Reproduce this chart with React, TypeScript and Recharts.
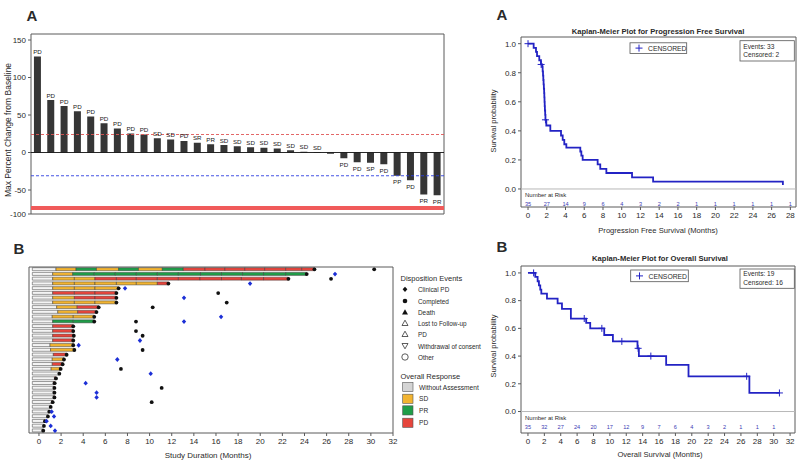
import React from "react";
import {
  BarChart,
  Bar,
  XAxis,
  YAxis,
  ReferenceLine,
  ReferenceArea,
  LabelList,
  Cell,
  ComposedChart,
  Line,
  Scatter,
  ScatterChart,
} from "recharts";

const FONT = "'Liberation Sans', Arial, Helvetica, sans-serif";
const TXT = "#2a2a2a";
const AX = "#5a5a5a";
const KMBLUE = "#2323c4";

// ---------- Panel A (left): waterfall ----------
const wfChange = [128, 70, 62, 55, 48, 39, 32, 25.5, 24, 19, 17.5, 15.5, 13, 11, 10, 8.5, 7, 6.2, 5.4, 3, 1, 0.6, -1.5, -7.5, -13, -13.5, -15.5, -31, -37, -56, -57];
const wfResponse = ["PD", "PD", "PD", "PD", "PD", "PD", "PD", "PD", "PD", "SD", "SD", "PD", "SR", "PR", "SD", "SD", "SD", "SD", "SD", "SD", "SD", "SD", "", "PD", "PD", "SP", "PD", "PP", "PD", "PR", "PR"];
const wfTicks = [150, 100, 50, 0, -50, -82];
const wfDomain: [number, number] = [-82, 158];
const wfProgressLine = 24;
const wfResponseLine = -31;
const wfFloor = -74;

// ---------- Panel B (left): swimmer ----------
type Seg = [string, number];
const swimStart = -0.6;
const swimRows: Seg[][] = [
  [["N", 1.54], ["SD", 3.35], ["PR", 5.2], ["SD", 7.2], ["PR", 9.0], ["SD", 11.15], ["PR", 13.05], ["PD", 15.0], ["PD", 16.8], ["PD", 18.6], ["PD", 20.4], ["PD", 22.3], ["PD", 23.75], ["PD", 24.9]],
  [["N", 1.24], ["SD", 3.05], ["PR", 5.0], ["PR", 6.9], ["PR", 8.8], ["PR", 10.7], ["PR", 12.6], ["PR", 14.6], ["PR", 16.5], ["PR", 18.4], ["PR", 20.3], ["PR", 22.3], ["PR", 24.2]],
  [["N", 1.24], ["SD", 3.2], ["SD", 5.06], ["PD", 7.0], ["PD", 8.8], ["PD", 10.7], ["PD", 12.6], ["PD", 14.55], ["PD", 16.5], ["PD", 18.3], ["PD", 20.3], ["PD", 22.55]],
  [["N", 1.24], ["SD", 3.2], ["SD", 5.06], ["SD", 7.0], ["SD", 8.8], ["SD", 10.7], ["PD", 11.7]],
  [["N", 1.24], ["SD", 3.2], ["SD", 5.06], ["SD", 7.2]],
  [["N", 1.24], ["PD", 3.2], ["PD", 5.06], ["PD", 7.0]],
  [["N", 1.24], ["SD", 3.2], ["PD", 5.06], ["PD", 7.0]],
  [["N", 1.24], ["SD", 3.2], ["SD", 5.06], ["SD", 7.0]],
  [["N", 1.6], ["SD", 3.45], ["PD", 5.4]],
  [["N", 1.7], ["SD", 3.5], ["PD", 5.2]],
  [["N", 1.2], ["SD", 3.1], ["SD", 5.0]],
  [["N", 1.24], ["PR", 3.1], ["PR", 5.0]],
  [["N", 1.24], ["PD", 3.1]],
  [["N", 1.24], ["PD", 3.1]],
  [["N", 1.24], ["PD", 3.15]],
  [["N", 1.24], ["PD", 3.1]],
  [["N", 1.0], ["SD", 3.1]],
  [["N", 1.05], ["SD", 3.2]],
  [["N", 1.3], ["PD", 2.5]],
  [["N", 1.2], ["SD", 2.26]],
  [["N", 1.2], ["PD", 2.14]],
  [["N", 1.1], ["SD", 1.96]],
  [["N", 1.84]],
  [["N", 1.4], ["PD", 1.54]],
  [["N", 1.3], ["PD", 1.42]],
  [["N", 1.3], ["PD", 1.4]],
  [["N", 1.3], ["PD", 1.4]],
  [["N", 1.3], ["PD", 1.4]],
  [["N", 1.15], ["PD", 1.24]],
  [["N", 1.06]],
  [["N", 0.93]],
  [["N", 0.81]],
  [["N", 0.54]],
  [["N", 0.45]],
  [["N", 0.3], ["PD", 0.39]],
];
const swimBlack: [number, number][] = [[1, 30.3], [3, 26.4], [6, 16.2], [8, 16.97], [9, 10.28], [12, 8.77], [14, 8.77], [15, 9.37], [18, 9.37], [22, 7.41], [26, 11.09], [29, 10.19]];
const swimBlue: [number, number][] = [[2, 26.76], [4, 19.08], [5, 7.78], [7, 13.11], [11, 16.46], [12, 13.11], [16, 9.13], [17, 3.59], [20, 7.08], [23, 10.1], [25, 4.22], [27, 5.21], [28, 5.21], [31, 1.15], [32, 1.36], [33, 0.69], [34, 1.06], [35, 1.45]];
const swimTicks = [0, 2, 4, 6, 8, 10, 12, 14, 16, 18, 20, 22, 24, 26, 28, 30, 32];
const swimDomain: [number, number] = [-0.9, 32];
const statusColor: Record<string, string> = { N: "#f4f4f4", SD: "#f2b431", PR: "#1f9d48", PD: "#e6453c" };

// ---------- Right A: PFS ----------
const pfsTime = [0, 0.6, 0.85, 0.96, 1.2, 1.38, 1.5, 1.56, 1.6, 1.63, 1.66, 1.69, 1.72, 1.74, 1.76, 1.78, 1.8, 1.83, 1.86, 1.95, 2.38, 3.52, 3.7, 3.87, 4.09, 5.58, 5.69, 5.83, 7.43, 7.71, 8.36, 11.1, 13.35, 27.2];
const pfsSurv = [1.0, 0.971, 0.943, 0.914, 0.886, 0.857, 0.843, 0.81, 0.78, 0.75, 0.72, 0.69, 0.66, 0.63, 0.6, 0.57, 0.54, 0.51, 0.476, 0.437, 0.4, 0.368, 0.338, 0.308, 0.285, 0.258, 0.23, 0.2, 0.17, 0.138, 0.11, 0.08, 0.05, 0.028];
const pfsCensorT = [0, 1.4, 1.86];
const pfsCensorS = [1.0, 0.857, 0.476];
const pfsAtRisk = [35, 27, 14, 9, 6, 4, 3, 2, 2, 1, 1, 1, 1, 1, 1];
const pfsTicks = [0, 2, 4, 6, 8, 10, 12, 14, 16, 18, 20, 22, 24, 26, 28];

// ---------- Right B: OS ----------
const osTime = [0, 0.89, 1.18, 1.34, 1.5, 1.63, 2.32, 3.62, 4.15, 5.24, 7.11, 7.6, 9.31, 10.37, 13.37, 13.54, 16.87, 19.6, 27.03, 30.7];
const osSurv = [1.0, 0.971, 0.94, 0.91, 0.88, 0.851, 0.815, 0.78, 0.741, 0.671, 0.64, 0.6, 0.552, 0.506, 0.456, 0.4, 0.336, 0.254, 0.134, 0.134];
const osCensorT = [0.69, 6.87, 9.02, 11.46, 13.45, 15.0, 26.7, 30.7];
const osCensorS = [1.0, 0.671, 0.6, 0.506, 0.456, 0.4, 0.254, 0.134];
const osAtRisk = [35, 32, 27, 24, 20, 17, 12, 9, 7, 6, 4, 3, 2, 1, 1, 1];
const osTicks = [0, 2, 4, 6, 8, 10, 12, 14, 16, 18, 20, 22, 24, 26, 28, 30, 32];
const kmYTicks = [0, 0.2, 0.4, 0.6, 0.8, 1.0];

// ---------- derived tables ----------
const wfData = wfChange.map((v, i) => ({ pid: `P${i + 1}`, change: v, resp: wfResponse[i] }));
const maxSeg = Math.max(...swimRows.map((r) => r.length));
const segKeys = Array.from({ length: maxSeg }, (_, k) => `s${k}`);
const swimData = swimRows.map((segs, i) => {
  const o: Record<string, any> = { row: `R${i + 1}`, off: swimStart };
  let prev = swimStart;
  segKeys.forEach((key, k) => {
    if (k < segs.length) {
      o[key] = +(segs[k][1] - prev).toFixed(3);
      prev = segs[k][1];
    } else o[key] = 0;
  });
  return o;
});
const swimEndPts = swimRows.map((segs, i) => ({ row: i + 1, x: segs[segs.length - 1][1] }));
const swimBlackPts = swimBlack.map(([row, x]) => ({ row, x }));
const swimBluePts = swimBlue.map(([row, x]) => ({ row, x }));
const pfsCurve = pfsTime.map((t, i) => ({ t, s: pfsSurv[i] }));
const pfsCensor = pfsCensorT.map((t, i) => ({ t, s: pfsCensorS[i] }));
const pfsRisk = pfsAtRisk.map((n, i) => ({ t: pfsTicks[i], s: -0.1, n }));
const osCurve = osTime.map((t, i) => ({ t, s: osSurv[i] }));
const osCensor = osCensorT.map((t, i) => ({ t, s: osCensorS[i] }));
const osRisk = osAtRisk.map((n, i) => ({ t: osTicks[i], s: -0.112, n }));

const tickStyle = { fontSize: 8, fill: TXT, fontFamily: FONT };

const WfLabel = (props: any) => {
  const vb = props.viewBox || {};
  const x = props.x ?? vb.x;
  const y = props.y ?? vb.y;
  const w = props.width ?? vb.width;
  const h = props.height ?? vb.height;
  const idx = props.index;
  if (idx == null || x == null) return null;
  const txt = wfResponse[idx];
  if (!txt) return null;
  const top = Math.min(y, y + h);
  const bot = Math.max(y, y + h);
  const cy = wfChange[idx] >= 0 ? top - 5 : bot + 6;
  return (
    <text x={x + w / 2} y={cy} fontSize={6.2} fill="#1a1a1a" textAnchor="middle" dominantBaseline="central" fontFamily={FONT}>
      {txt}
    </text>
  );
};

const BlackDot = (p: any) => <circle cx={p.cx} cy={p.cy} r={1.9} fill="#111" />;
const BlueDiamond = (p: any) => (
  <path d={`M${p.cx},${p.cy - 2.4}L${p.cx + 2.2},${p.cy}L${p.cx},${p.cy + 2.4}L${p.cx - 2.2},${p.cy}Z`} fill="#1c2fd6" />
);
const CensorMark = (p: any) => (
  <g stroke={KMBLUE} strokeWidth={1}>
    <line x1={p.cx - 3.5} x2={p.cx + 3.5} y1={p.cy} y2={p.cy} />
    <line x1={p.cx} x2={p.cx} y1={p.cy - 3.5} y2={p.cy + 3.5} />
  </g>
);
const RiskText = (p: any) => (
  <text x={p.cx} y={p.cy} fontSize={5.6} fill="#3c3cb4" textAnchor="middle" dominantBaseline="central" fontFamily={FONT}>
    {p.payload.n}
  </text>
);

type KMProps = {
  width: number;
  height: number;
  margin: { top: number; right: number; bottom: number; left: number };
  curve: { t: number; s: number }[];
  censor: { t: number; s: number }[];
  risk: { t: number; s: number; n: number }[];
  xDomain: [number, number];
  xTicks: number[];
  yDomain: [number, number];
};

function KMPlot({ width, height, margin, curve, censor, risk, xDomain, xTicks, yDomain }: KMProps) {
  return (
    <ComposedChart width={width} height={height} margin={margin}>
      <XAxis type="number" dataKey="t" domain={xDomain} ticks={xTicks} allowDataOverflow interval={0} height={20} tickSize={3} tick={tickStyle} axisLine={false} tickLine={{ stroke: AX }} />
      <YAxis type="number" domain={yDomain} ticks={kmYTicks} allowDataOverflow interval={0} width={41} tickSize={3} tick={tickStyle} axisLine={false} tickLine={{ stroke: AX }} tickFormatter={(v: number) => v.toFixed(1)} />
      <ReferenceArea x1={xDomain[0]} x2={xDomain[1]} y1={yDomain[0]} y2={yDomain[1]} fill="none" stroke={AX} strokeWidth={1} ifOverflow="visible" />
      <ReferenceLine y={0} stroke="#b8b8b8" strokeWidth={1} />
      <Line data={curve} dataKey="s" type="stepAfter" stroke={KMBLUE} strokeWidth={1.8} dot={false} isAnimationActive={false} />
      <Scatter data={censor} dataKey="s" shape={CensorMark} isAnimationActive={false} />
      <Scatter data={risk} dataKey="s" shape={RiskText} isAnimationActive={false} />
    </ComposedChart>
  );
}

const Txt = ({ x, y, s = 8, b = false, a = "start", rot = 0, fill = TXT, children }: any) => (
  <text
    x={x}
    y={y}
    fontSize={s}
    fontWeight={b ? 700 : 400}
    textAnchor={a}
    dominantBaseline="central"
    fill={fill}
    fontFamily={FONT}
    transform={rot ? `rotate(${rot} ${x} ${y})` : undefined}
  >
    {children}
  </text>
);

const abs = (left: number, top: number): React.CSSProperties => ({ position: "absolute", left, top });

function Overlay() {
  const legX = 405;
  const evY = [289.3, 301, 312, 323, 334, 346, 357];
  const evNames = ["Clinical PD", "Completed", "Death", "Lost to Follow-up", "PD", "Withdrawal of consent", "Other"];
  const respNames = ["Without Assessment", "SD", "PR", "PD"];
  const respColors = ["#d4d4d4", statusColor.SD, statusColor.PR, statusColor.PD];
  const respY = [387, 398.8, 410.4, 422.8];
  const tri = (cx: number, cy: number, down = false) =>
    down ? `M${cx - 3},${cy - 2.5}L${cx + 3},${cy - 2.5}L${cx},${cy + 2.8}Z` : `M${cx - 3},${cy + 2.5}L${cx + 3},${cy + 2.5}L${cx},${cy - 2.8}Z`;
  return (
    <svg width={800} height={468} style={{ position: "absolute", left: 0, top: 0, pointerEvents: "none" }}>
      <Txt x={32} y={15} s={15} b a="middle">A</Txt>
      <Txt x={19} y={248} s={15} b a="middle">B</Txt>
      <Txt x={502} y={14} s={15} b a="middle">A</Txt>
      <Txt x={502} y={246} s={15} b a="middle">B</Txt>

      <Txt x={8} y={130} s={8.5} a="middle" rot={-90}>Max Percent Change from Baseline</Txt>
      <Txt x={208} y={455} s={8} a="middle">Study Duration (Months)</Txt>

      {/* swimmer legend */}
      <Txt x={400.5} y={278} s={7.5}>Disposition Events</Txt>
      <path d={`M${legX},${evY[0] - 2.6}L${legX + 2.4},${evY[0]}L${legX},${evY[0] + 2.6}L${legX - 2.4},${evY[0]}Z`} fill="#111" />
      <circle cx={legX} cy={evY[1]} r={2.3} fill="#111" />
      <path d={tri(legX, evY[2])} fill="#111" />
      <path d={tri(legX, evY[3])} fill="none" stroke="#333" strokeWidth={0.8} />
      <path d={tri(legX, evY[4])} fill="none" stroke="#333" strokeWidth={0.8} />
      <path d={tri(legX, evY[5], true)} fill="none" stroke="#333" strokeWidth={0.8} />
      <circle cx={legX} cy={evY[6]} r={3.2} fill="none" stroke="#333" strokeWidth={0.8} />
      {evNames.map((n, i) => (
        <Txt key={n + i} x={418} y={evY[i]} s={6.4}>{n}</Txt>
      ))}
      <Txt x={400.5} y={376} s={7.5}>Overall Response</Txt>
      {respNames.map((n, i) => (
        <g key={n}>
          <rect x={402.7} y={respY[i] - 4.6} width={10.3} height={9.2} fill={respColors[i]} stroke="#555" strokeWidth={0.6} />
          <Txt x={419} y={respY[i]} s={6.6}>{n}</Txt>
        </g>
      ))}

      {/* PFS texts */}
      <Txt x={658} y={31} s={7.6} b a="middle">Kaplan-Meier Plot for Progression Free Survival</Txt>
      <Txt x={493} y={121} s={7.5} a="middle" rot={-90}>Survival probability</Txt>
      <Txt x={658} y={230} s={7.6} a="middle">Progression Free Survival (Months)</Txt>
      <Txt x={525} y={195} s={6}>Number at Risk</Txt>
      <rect x={630} y={42.8} width={56.7} height={10.6} fill="#fff" stroke="#555" strokeWidth={0.8} />
      <g stroke={KMBLUE} strokeWidth={1}>
        <line x1={635.5} x2={642.5} y1={48.1} y2={48.1} />
        <line x1={639} x2={639} y1={44.6} y2={51.6} />
      </g>
      <Txt x={648} y={48.3} s={6.8}>CENSORED</Txt>
      <rect x={740} y={40.7} width={54.3} height={20.3} fill="#fff" stroke="#555" strokeWidth={0.8} />
      <Txt x={743.3} y={46.2} s={6.6}>Events: 33</Txt>
      <Txt x={743.3} y={54.4} s={6.6}>Censored: 2</Txt>

      {/* OS texts */}
      <Txt x={660} y={258} s={7.6} b a="middle">Kaplan-Meier Plot for Overall Survival</Txt>
      <Txt x={493} y={346} s={7.5} a="middle" rot={-90}>Survival probability</Txt>
      <Txt x={660} y={454} s={7.6} a="middle">Overall Survival (Months)</Txt>
      <Txt x={525} y={418.3} s={6}>Number at Risk</Txt>
      <rect x={630.7} y={270} width={57.6} height={11.7} fill="#fff" stroke="#555" strokeWidth={0.8} />
      <g stroke={KMBLUE} strokeWidth={1}>
        <line x1={636} x2={643} y1={275.9} y2={275.9} />
        <line x1={639.5} x2={639.5} y1={272.4} y2={279.4} />
      </g>
      <Txt x={648.5} y={276} s={6.8}>CENSORED</Txt>
      <rect x={740} y={269} width={54.3} height={19.3} fill="#fff" stroke="#555" strokeWidth={0.8} />
      <Txt x={743.3} y={273.6} s={6.6}>Events: 19</Txt>
      <Txt x={743.3} y={282.3} s={6.6}>Censored: 16</Txt>
    </svg>
  );
}

export default function App() {
  return (
    <div style={{ position: "absolute", left: 0, top: 0, width: 800, height: 468, background: "#fff", overflow: "hidden", fontFamily: FONT }}>
      {/* Waterfall */}
      <div style={abs(0, 0)}>
        <BarChart width={460} height={230} data={wfData} margin={{ top: 34, right: 16, bottom: 16, left: 0 }} barCategoryGap="22%">
          <XAxis dataKey="pid" hide />
          <YAxis
            type="number"
            domain={wfDomain}
            ticks={wfTicks}
            allowDataOverflow
            interval={0}
            width={31}
            tickSize={3}
            tick={tickStyle}
            axisLine={false}
            tickLine={{ stroke: AX }}
            tickFormatter={(v: number) => (v === -82 ? "-100" : String(v))}
          />
          <ReferenceArea y1={wfDomain[0]} y2={wfDomain[1]} fill="none" stroke={AX} strokeWidth={1} ifOverflow="visible" />
          <ReferenceLine y={wfProgressLine} stroke="#e05656" strokeDasharray="3 2" strokeWidth={0.9} />
          <ReferenceLine y={wfResponseLine} stroke="#2f3fe0" strokeDasharray="3 2" strokeWidth={0.9} />
          <ReferenceLine y={wfFloor} stroke="#f05a5a" strokeWidth={4} />
          <ReferenceLine y={0} stroke="#111" strokeWidth={0.9} />
          <Bar dataKey="change" fill="#363636" isAnimationActive={false}>
            <LabelList dataKey="resp" content={WfLabel} />
          </Bar>
        </BarChart>
      </div>

      {/* Swimmer bars */}
      <div style={abs(0, 250)}>
        <BarChart width={400} height={218} data={swimData} layout="vertical" margin={{ top: 17, right: 7, bottom: 0, left: 29 }} barCategoryGap="14%" stackOffset="none">
          <XAxis type="number" domain={swimDomain} ticks={swimTicks} allowDataOverflow interval={0} height={35} tickSize={3} tick={tickStyle} axisLine={false} tickLine={{ stroke: AX }} />
          <YAxis type="category" dataKey="row" hide />
          <Bar dataKey="off" stackId="a" fill="none" stroke="none" isAnimationActive={false} />
          {segKeys.map((key, k) => (
            <Bar key={key} dataKey={key} stackId="a" stroke="#3a3a3a" strokeWidth={0.5} isAnimationActive={false}>
              {swimRows.map((segs, i) => (
                <Cell key={`c${i}`} fill={k < segs.length ? statusColor[segs[k][0]] : "none"} />
              ))}
            </Bar>
          ))}
        </BarChart>
      </div>
      {/* Swimmer event markers */}
      <div style={abs(0, 250)}>
        <ScatterChart width={400} height={218} margin={{ top: 17, right: 7, bottom: 35, left: 29 }}>
          <XAxis type="number" dataKey="x" domain={swimDomain} allowDataOverflow hide />
          <YAxis type="number" dataKey="row" domain={[0.5, 35.5]} reversed allowDataOverflow hide />
          <ReferenceArea x1={swimDomain[0]} x2={swimDomain[1]} y1={0.5} y2={35.5} fill="none" stroke={AX} strokeWidth={1} ifOverflow="visible" />
          <Scatter data={swimEndPts} shape={BlackDot} isAnimationActive={false} />
          <Scatter data={swimBlackPts} shape={BlackDot} isAnimationActive={false} />
          <Scatter data={swimBluePts} shape={BlueDiamond} isAnimationActive={false} />
        </ScatterChart>
      </div>

      {/* KM PFS */}
      <div style={abs(480, 0)}>
        <KMPlot
          width={320}
          height={240}
          margin={{ top: 37, right: 4, bottom: 13, left: 0 }}
          curve={pfsCurve}
          censor={pfsCensor}
          risk={pfsRisk}
          xDomain={[-0.75, 28.6]}
          xTicks={pfsTicks}
          yDomain={[-0.124, 1.046]}
        />
      </div>
      {/* KM OS */}
      <div style={abs(480, 240)}>
        <KMPlot
          width={320}
          height={228}
          margin={{ top: 26, right: 5, bottom: 15, left: 0 }}
          curve={osCurve}
          censor={osCensor}
          risk={osRisk}
          xDomain={[-0.85, 32.6]}
          xTicks={osTicks}
          yDomain={[-0.155, 1.05]}
        />
      </div>

      <Overlay />
    </div>
  );
}
